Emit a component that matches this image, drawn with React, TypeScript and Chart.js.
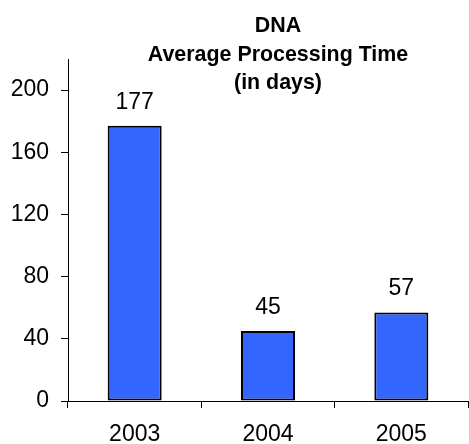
import React, { useEffect, useRef } from "react";
import { Chart, registerables } from "chart.js";

Chart.register(...registerables);

const categories = ["2003", "2004", "2005"];
const values = [177, 45, 57];
const titleLines = ["DNA", "Average Processing Time", "(in days)"];
const yTicks = [0, 40, 80, 120, 160, 200];

const FONT = "'Liberation Sans', Arial, sans-serif";

const titlePlugin = {
  id: "customTitle",
  afterDraw(chart: any) {
    const ctx = chart.ctx;
    ctx.save();
    ctx.font = `bold 21.4px ${FONT}`;
    ctx.fillStyle = "#000";
    ctx.textAlign = "center";
    ctx.textBaseline = "alphabetic";
    const ys = [32, 60.5, 88.5];
    titleLines.forEach((t, i) => ctx.fillText(t, 278, ys[i]));
    ctx.restore();
  },
};

const labelPlugin = {
  id: "valueLabels",
  afterDatasetsDraw(chart: any) {
    const ctx = chart.ctx;
    const meta = chart.getDatasetMeta(0);
    ctx.save();
    ctx.font = `23px ${FONT}`;
    ctx.fillStyle = "#000";
    ctx.textAlign = "center";
    ctx.textBaseline = "alphabetic";
    meta.data.forEach((bar: any, i: number) => {
      ctx.fillText(String(values[i]), bar.x, bar.y - 17);
    });
    ctx.restore();
  },
};

export default function App() {
  const ref = useRef<HTMLCanvasElement>(null);
  useEffect(() => {
    if (!ref.current) return;
    const chart = new Chart(ref.current, {
      type: "bar",
      data: {
        labels: categories,
        datasets: [
          {
            data: values,
            backgroundColor: "#3366FF",
            borderColor: "#000",
            borderWidth: 2,
            borderSkipped: false,
            barPercentage: 0.405,
            categoryPercentage: 1,
          },
        ],
      },
      options: {
        responsive: false,
        animation: false,
        layout: { padding: { top: 59, right: 1, left: 0, bottom: 0 } },
        plugins: {
          legend: { display: false },
          title: { display: false },
          tooltip: { enabled: false },
        },
        scales: {
          x: {
            offset: true,
            grid: {
              offset: true,
              drawOnChartArea: false,
              drawTicks: true,
              tickLength: 7,
              tickColor: "#000",
            },
            border: { color: "#000", width: 1 },
            ticks: {
              color: "#000",
              font: { family: FONT, size: 23 },
              padding: 13,
              maxRotation: 0,
            },
            afterFit(scale: any) {
              scale.height = 43;
            },
          },
          y: {
            min: 0,
            max: 220,
            grid: {
              drawOnChartArea: false,
              drawTicks: true,
              tickLength: 7,
              tickColor: "#000",
            },
            border: { color: "#000", width: 1 },
            ticks: {
              stepSize: 40,
              includeBounds: false,
              color: "#000",
              font: { family: FONT, size: 23 },
              padding: 12,
            },
            afterBuildTicks(scale: any) {
              scale.ticks = yTicks.map((v) => ({ value: v }));
            },
            afterFit(scale: any) {
              scale.width = 68;
            },
          },
        },
      },
      plugins: [titlePlugin, labelPlugin],
    });
    return () => chart.destroy();
  }, []);
  return (
    <canvas
      ref={ref}
      width={469}
      height={444}
      style={{ position: "absolute", left: 0, top: 0 }}
    />
  );
}
